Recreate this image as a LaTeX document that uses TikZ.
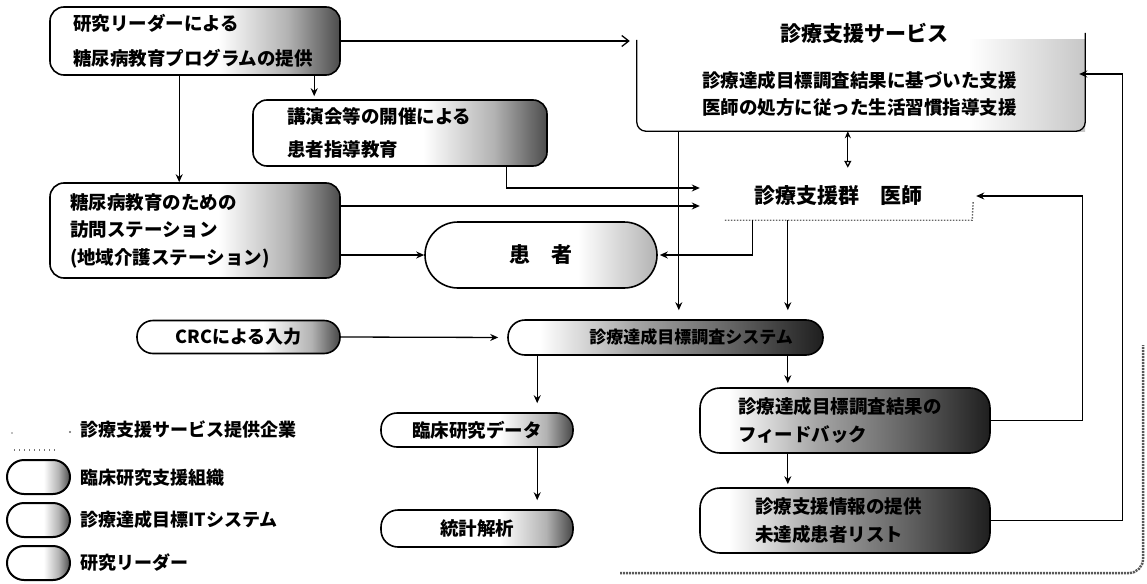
\documentclass[tikz,border=0pt]{standalone}
\usepackage{fontspec}
\setmainfont{Noto Sans CJK JP}
\usetikzlibrary{arrows.meta,calc}
\pgfdeclarehorizontalshading{leadershade}{100bp}{color(0bp)=(white); color(54bp)=(white); color(66bp)=(black!30); color(75bp)=(black!70); color(100bp)=(black!70)}
\pgfdeclarehorizontalshading{crcshade}{100bp}{color(0bp)=(white); color(56bp)=(white); color(68bp)=(black!30); color(75bp)=(black!72); color(100bp)=(black!72)}
\pgfdeclarehorizontalshading{itshade}{100bp}{color(0bp)=(white); color(30bp)=(white); color(45bp)=(black!35); color(60bp)=(black!60); color(75bp)=(black!88); color(100bp)=(black!88)}
\pgfdeclarehorizontalshading{patshade}{100bp}{color(0bp)=(white); color(58bp)=(white); color(75bp)=(black!30); color(100bp)=(black!30)}
\pgfdeclarehorizontalshading{svcshade}{100bp}{color(0bp)=(white); color(62bp)=(white); color(75bp)=(black!22); color(100bp)=(black!22)}
\newcommand{\myfs}[2]{\fontsize{#1}{#2}\selectfont\bfseries}
\begin{document}
\begin{tikzpicture}[x=1pt,y=-1pt,
  box/.style={draw, line width=1.6pt, inner ysep=2pt},
  leader/.style={box, rounded corners=14pt, shade, shading=leadershade, align=left},
  crcbox/.style={box, shade, shading=crcshade},
  itsys/.style={box, shade, shading=itshade, align=left},
  legpill/.style={draw, line width=2pt, rounded corners=17pt, shade, shading=leadershade, minimum width=63pt, minimum height=34pt, inner sep=0pt},
  legtext/.style={anchor=west, inner sep=0pt, font=\myfs{18}{22}},
  conn/.style={line width=1.3pt, -{Stealth[length=8pt,width=7pt]}},
  openarr/.style={line width=1.3pt, -{Straight Barb[length=7pt,width=11pt]}},
  dblarr/.style={line width=1.3pt, {Stealth[length=7pt,width=6pt]}-{Triangle[open,length=7pt,width=7pt]}},
]
\useasboundingbox (0,0) rectangle (1147,583);

% service box
\node[minimum width=448pt, minimum height=98pt, inner sep=0pt] (svc) at (861,82) {};
\shade[shading=svcshade] ($(svc.north west)+(0,7)$) rectangle (svc.south east);
\draw[line width=1.3pt, rounded corners=9pt] ($(svc.north west)+(0,7)$) -- (svc.south west) -- (svc.south east) -- (svc.north east);
\node[font=\myfs{21}{25}] (svcT) at (864,33) {診療支援サービス};
\node[font=\myfs{18.5}{27}, align=left, anchor=west, inner sep=0pt] (svcL) at (702,93.5) {診療達成目標調査結果に基づいた支援\\医師の処方に従った生活習慣指導支援};

% doctors group
\node[minimum width=276pt, minimum height=48pt, inner sep=0pt, font=\myfs{21}{25}] (doc) at (838,196) {診療支援群　医師};
\draw[line width=1.4pt, black!60, dash pattern=on 1.5pt off 1.5pt] ($(doc.south west)+(25,0)$) -- ($(doc.south east)+(-4,0)$) -- ($(doc.east)+(-3,5)$);

% nodes
\node[leader, text width=244pt, inner xsep=23pt, minimum height=68pt, font=\myfs{18.5}{35}] (A) at (195,41) {研究リーダーによる\\糖尿病教育プログラムの提供};
\node[leader, text width=226pt, inner xsep=34pt, minimum height=66pt, font=\myfs{18.5}{33}] (B) at (400,133) {講演会等の開催による\\患者指導教育};
\node[leader, text width=250pt, inner xsep=20pt, minimum height=95pt, font=\myfs{18.5}{27.5}] (C) at (195,230.5) {糖尿病教育のための\\訪問ステーション\\(地域介護ステーション)};
\node[box, rounded corners=33pt, shade, shading=patshade, minimum width=232pt, minimum height=66pt, font=\myfs{21}{25}] (D) at (541,255) {患　者};
\node[crcbox, rounded corners=16pt, minimum width=203pt, minimum height=33pt, font=\myfs{18}{22}] (E) at (238.5,337) {CRCによる入力};
\node[itsys, rounded corners=17pt, minimum width=315pt, minimum height=35pt] (F) at (665.5,337.5) {};
\node[font=\myfs{17}{20}, anchor=west, inner sep=0pt] (Ft) at ($(F.west)+(82,0)$) {診療達成目標調査システム};
\node[crcbox, rounded corners=16pt, minimum width=192pt, minimum height=34pt, font=\myfs{18.5}{22}] (G) at (477,430) {臨床研究データ};
\node[crcbox, rounded corners=17pt, minimum width=192pt, minimum height=37pt, font=\myfs{18.5}{22}] (H) at (477,528.5) {統計解析};
\node[itsys, rounded corners=20pt, text width=214pt, inner xsep=38pt, minimum height=65pt, font=\myfs{18.5}{28}] (I) at (845,420.5) {診療達成目標調査結果の\\フィードバック};
\node[itsys, rounded corners=20pt, text width=180pt, inner xsep=55pt, minimum height=65pt, font=\myfs{18.5}{28}] (J) at (845,520.5) {診療支援情報の提供\\未達成患者リスト};

% connectors
\draw[openarr, shorten >=7pt] (A.east) -- (A.east -| svc.west);
\draw[conn, shorten >=3pt] ($(A.south west)+(265,0)$) coordinate (a1) -- (a1 |- B.north);
\draw[conn] ($(A.south west)+(130,0)$) coordinate (a2) -- (a2 |- C.north);
\draw[conn] ($(B.south east)+(-41,0)$) |- ($(doc.west)+(0,-8)$);
\draw[conn] ($(C.east)+(0,-24.5)$) coordinate (c1) -- (c1 -| doc.west);
\draw[conn] ($(C.east)+(0,24.5)$) -- (D.west);
\draw[conn, shorten >=2pt] ($(doc.south west)+(53,0)$) |- (D.east);
\draw[conn, shorten >=9pt] ($(svc.south west)+(42,0)$) coordinate (s1) -- (s1 |- F.north);
\draw[dblarr, shorten >=4pt] ($(svc.south west)+(211,0)$) coordinate (s2) -- (s2 |- doc.north);
\draw[conn, shorten >=9pt] ($(doc.south west)+(88,0)$) coordinate (d2) -- (d2 |- F.north);
\draw[conn, shorten >=9pt] (E.east) -- (F.west);
\draw[conn, shorten >=9pt] ($(F.south west)+(30,0)$) coordinate (f1) -- (f1 |- G.north);
\draw[conn, shorten >=9pt] (f1 |- G.south) -- (f1 |- H.north);
\draw[conn, shorten >=4pt] (d2 |- F.south) -- (d2 |- I.north);
\draw[conn, shorten >=3pt] (d2 |- I.south) -- (d2 |- J.north);
\draw[conn] (I.east) -- ++(92,0) |- (doc.east);
\draw[conn, shorten >=-6pt] (J.east) -- ++(132,0) |- ($(svc.east)+(0,-8)$);

% outer frame
\draw[line width=2.5pt, black!65, dash pattern=on 2pt off 1pt, rounded corners=14pt] (620,573) -- (1143,573) -- (1143,345);

% legend
\fill[black!60] (70,432) circle (1.2pt);
\fill[black!50] (12,433) circle (0.9pt);
\draw[black!55, line width=1.2pt, dash pattern=on 1pt off 4pt] (14,450) -- (56,450);
\node[legtext] (L1) at (80,430) {診療支援サービス提供企業};
\node[legpill] (P1) at (38.5,477) {};
\node[legtext] (L2) at (80,478) {臨床研究支援組織};
\node[legpill] (P2) at (38.5,520) {};
\node[legtext] (L3) at (80,520) {診療達成目標ITシステム};
\node[legpill] (P3) at (38.5,563) {};
\node[legtext] (L4) at (80,563) {研究リーダー};
\end{tikzpicture}
\end{document}
